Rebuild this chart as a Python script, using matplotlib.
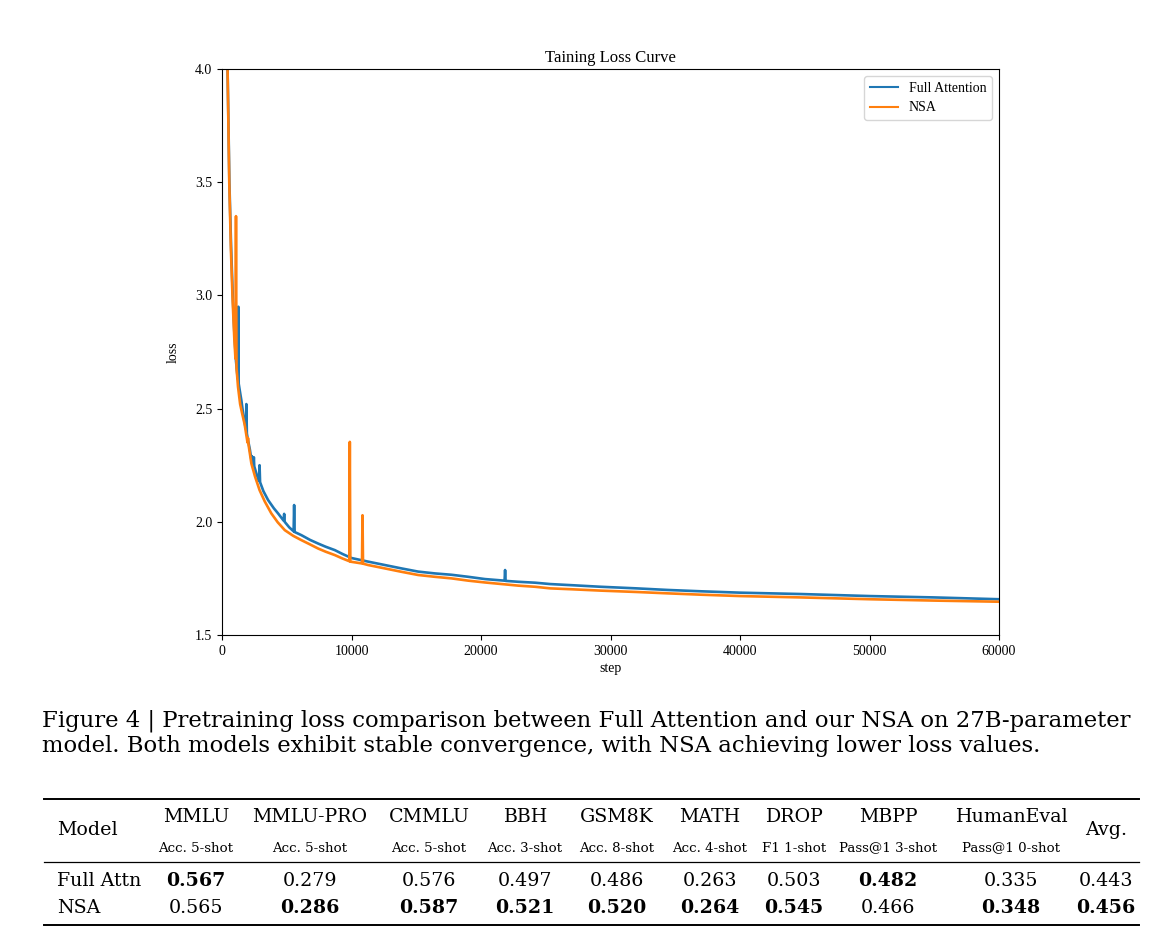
import numpy as np
import matplotlib
matplotlib.use("Agg")
import matplotlib.pyplot as plt
from matplotlib.lines import Line2D

# loss curves (step, loss)
full_steps = [300, 430, 570, 700, 830, 950, 1080, 1200, 1230, 1260, 1290, 1400, 1495,
              1650, 1840, 1880, 1920, 2010, 2150, 2280, 2310, 2340, 2430, 2460, 2490,
              2700, 2860, 2900, 2940, 3200, 3560, 4000, 4330, 4760, 4800, 4840, 5200,
              5530, 5570, 5610, 6130, 6800, 7420, 8000, 8710, 9300, 10000, 11290, 12580,
              13870, 15150, 16440, 17730, 19020, 20310, 21820, 21860, 21900, 22890,
              24180, 25340, 27000, 29250, 32000, 34400, 37000, 40000, 44680, 50000,
              54960, 60000]
full_loss = [4.45, 4.00, 3.50, 3.22, 3.00, 2.84, 2.71, 2.64, 2.63, 2.95, 2.61, 2.57, 2.537,
             2.47, 2.41, 2.52, 2.39, 2.36, 2.32, 2.27, 2.29, 2.265, 2.255, 2.285, 2.245,
             2.205, 2.18, 2.25, 2.175, 2.135, 2.096, 2.06, 2.037, 2.005, 2.035, 2.0, 1.975,
             1.958, 2.074, 1.955, 1.941, 1.92, 1.904, 1.89, 1.875, 1.858, 1.84, 1.824, 1.809,
             1.794, 1.78, 1.772, 1.766, 1.757, 1.747, 1.740, 1.787, 1.739, 1.735,
             1.731, 1.725, 1.72, 1.713, 1.706, 1.699, 1.693, 1.687, 1.681, 1.672,
             1.666, 1.658]

nsa_steps = [300, 430, 560, 690, 820, 950, 1040, 1080, 1120, 1237, 1400, 1550, 1750,
             1970, 2010, 2050, 2270, 2550, 2900, 3300, 3810, 4300, 4850, 5500, 6130,
             6800, 7420, 8000, 8710, 9300, 9830, 9870, 9910, 10810, 10850, 10890, 11290,
             12580, 13870, 15150, 16440, 17730, 19020, 20310, 21600, 22890, 24180, 25340,
             27000, 29250, 32000, 34400, 37000, 40000, 44680, 50000, 54960, 60000]
nsa_loss = [4.45, 4.00, 3.50, 3.20, 2.98, 2.81, 2.72, 3.35, 2.68, 2.596, 2.52, 2.48, 2.43,
            2.35, 2.37, 2.34, 2.257, 2.2, 2.14, 2.09, 2.037, 1.998, 1.963, 1.938, 1.919,
            1.9, 1.882, 1.868, 1.853, 1.838, 1.826, 2.353, 1.824, 1.816, 2.029, 1.815, 1.809,
            1.794, 1.779, 1.765, 1.757, 1.75, 1.74, 1.732, 1.725, 1.718, 1.713, 1.706,
            1.702, 1.696, 1.69, 1.684, 1.678, 1.672, 1.666, 1.658, 1.652, 1.647]

# table
benchmarks = ["MMLU", "MMLU-PRO", "CMMLU", "BBH", "GSM8K", "MATH", "DROP", "MBPP", "HumanEval"]
metrics = ["Acc. 5-shot", "Acc. 5-shot", "Acc. 5-shot", "Acc. 3-shot", "Acc. 8-shot",
           "Acc. 4-shot", "F1 1-shot", "Pass@1 3-shot", "Pass@1 0-shot"]
models = ["Full Attn", "NSA"]
full_scores = [0.567, 0.279, 0.576, 0.497, 0.486, 0.263, 0.503, 0.482, 0.335, 0.443]
nsa_scores = [0.565, 0.286, 0.587, 0.521, 0.520, 0.264, 0.545, 0.466, 0.348, 0.456]

caption_lines = [
    "Figure 4 | Pretraining loss comparison between Full Attention and our NSA on 27B-parameter",
    "model. Both models exhibit stable convergence, with NSA achieving lower loss values.",
]

W, H = 1174, 940
chart_font = "Liberation Serif"
text_font = "DejaVu Serif"

plt.rcParams['font.family'] = chart_font
fig = plt.figure(figsize=(W / 100, H / 100), dpi=100)


def fx(px):
    return px / W


def fy(py):
    return 1 - py / H


# chart
ax = fig.add_axes([fx(222), fy(635), fx(999) - fx(222), fy(69) - fy(635)])
ax.plot(full_steps, full_loss, color="#1f77b4", lw=1.9, label="Full Attention")
ax.plot(nsa_steps, nsa_loss, color="#ff7f0e", lw=1.9, label="NSA")
ax.set_xlim(0, 60000)
ax.set_ylim(1.5, 4.0)
ax.set_xticks([0, 10000, 20000, 30000, 40000, 50000, 60000])
ax.set_yticks([1.5, 2.0, 2.5, 3.0, 3.5, 4.0])
ax.tick_params(labelsize=10)
ax.set_title("Taining Loss Curve", fontsize=12, pad=5)
ax.set_xlabel("step", fontsize=10, labelpad=3)
ax.set_ylabel("loss", fontsize=10, labelpad=11)
leg = ax.legend(loc="upper right", fontsize=10)
for h in leg.get_lines():
    h.set_linewidth(1.5)

# caption, sized so the first line spans the same width as in the picture
renderer = fig.canvas.get_renderer()
cap_base = [727, 752]
cap_texts = []
for line, yb in zip(caption_lines, cap_base):
    cap_texts.append(fig.text(fx(42), fy(yb), line, fontsize=15, va="baseline",
                              ha="left", family=text_font))
w0 = cap_texts[0].get_window_extent(renderer).width
for t in cap_texts:
    t.set_fontsize(15 * 1098 / w0)

# table rules
for yy, lw in [(799, 1.4), (862, 0.9), (925, 1.4)]:
    fig.add_artist(Line2D([fx(44), fx(1139)], [fy(yy), fy(yy)], color="black", lw=lw))

col_x = [196, 310, 429, 525, 617, 710, 794, 888, 1011, 1106]
big, small = 13.7, 9.6
fig.text(fx(57), fy(830), "Model", fontsize=big, va="center", ha="left", family=text_font)
fig.text(fx(col_x[-1]), fy(830), "Avg.", fontsize=big, va="center", ha="center",
         family=text_font)
for name, met, cx in zip(benchmarks, metrics, col_x):
    fig.text(fx(cx), fy(817), name, fontsize=big, va="center", ha="center", family=text_font)
    fig.text(fx(cx), fy(848), met, fontsize=small, va="center", ha="center", family=text_font)

row_y = [881, 908]
for model, scores, ry in zip(models, [full_scores, nsa_scores], row_y):
    other = nsa_scores if model == "Full Attn" else full_scores
    fig.text(fx(57), fy(ry), model, fontsize=big, va="center", ha="left", family=text_font)
    for val, oth, cx in zip(scores, other, col_x):
        weight = "bold" if val > oth else "normal"
        fig.text(fx(cx), fy(ry), f"{val:.3f}", fontsize=big, va="center", ha="center",
                 fontweight=weight, family=text_font)

fig.savefig("out.png", dpi=100)
